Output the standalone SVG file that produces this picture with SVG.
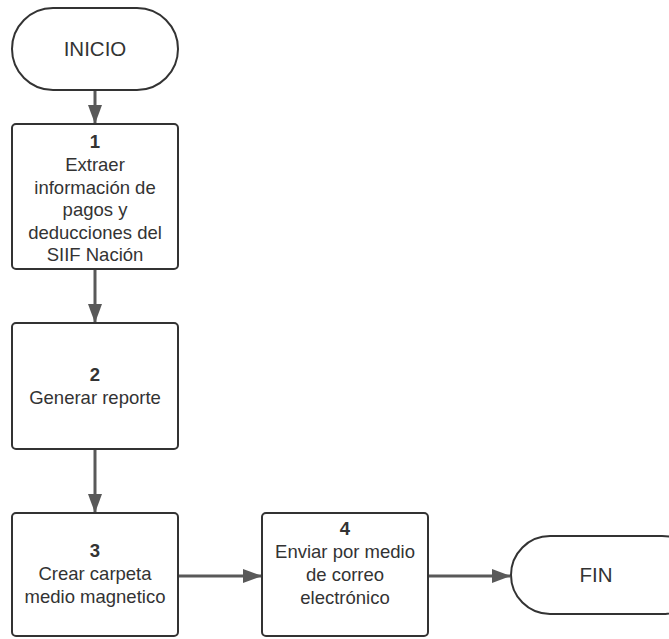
<svg xmlns="http://www.w3.org/2000/svg" width="669" height="639" viewBox="0 0 669 639">
<style>
.node{fill:#fff;stroke:#333;stroke-width:2}
.t{font-family:"Liberation Sans",Arial,sans-serif;font-size:18.5px;fill:#333;text-anchor:middle}
.b{font-weight:bold}
.big{font-size:20.5px}
.conn{stroke:#595959;stroke-width:3;fill:none}
</style>
<defs>
<marker id="ah" markerWidth="19" markerHeight="14" viewBox="0 0 19 14" refX="18" refY="7" orient="auto" markerUnits="userSpaceOnUse">
<path d="M0,0 L19,7 L0,14 Z" fill="#595959"/>
</marker>
</defs>
<rect width="669" height="639" fill="#fff"/>
<g id="connectors">
<line class="conn" x1="95" y1="91" x2="95" y2="123" marker-end="url(#ah)"/>
<line class="conn" x1="95" y1="270" x2="95" y2="322" marker-end="url(#ah)"/>
<line class="conn" x1="95" y1="450" x2="95" y2="512" marker-end="url(#ah)"/>
<line class="conn" x1="179" y1="576" x2="261" y2="576" marker-end="url(#ah)"/>
<line class="conn" x1="429" y1="576" x2="510" y2="576" marker-end="url(#ah)"/>
</g>
<g id="inicio">
<rect class="node" x="12" y="8" width="166" height="82" rx="41" ry="41"/>
<text class="t big" x="95" y="56">INICIO</text>
</g>
<g id="step1">
<rect class="node" x="12" y="124" width="166" height="145" rx="4"/>
<text class="t b" x="95" y="148">1</text>
<text class="t" x="95" y="171">Extraer</text>
<text class="t" x="95" y="194">información de</text>
<text class="t" x="95" y="216">pagos y</text>
<text class="t" x="95" y="239">deducciones del</text>
<text class="t" x="95" y="261">SIIF Nación</text>
</g>
<g id="step2">
<rect class="node" x="12" y="323" width="166" height="126" rx="4"/>
<text class="t b" x="95" y="381">2</text>
<text class="t" x="95" y="404">Generar reporte</text>
</g>
<g id="step3">
<rect class="node" x="12" y="513" width="166" height="123" rx="4"/>
<text class="t b" x="95" y="557">3</text>
<text class="t" x="95" y="580">Crear carpeta</text>
<text class="t" x="95" y="603">medio magnetico</text>
</g>
<g id="step4">
<rect class="node" x="262" y="513" width="166" height="123" rx="4"/>
<text class="t b" x="345" y="535">4</text>
<text class="t" x="345" y="558">Enviar por medio</text>
<text class="t" x="345" y="581">de correo</text>
<text class="t" x="345" y="604">electrónico</text>
</g>
<g id="fin">
<rect class="node" x="511" y="536" width="190" height="78" rx="39" ry="39"/>
<text class="t big" x="596" y="582">FIN</text>
</g>
</svg>
